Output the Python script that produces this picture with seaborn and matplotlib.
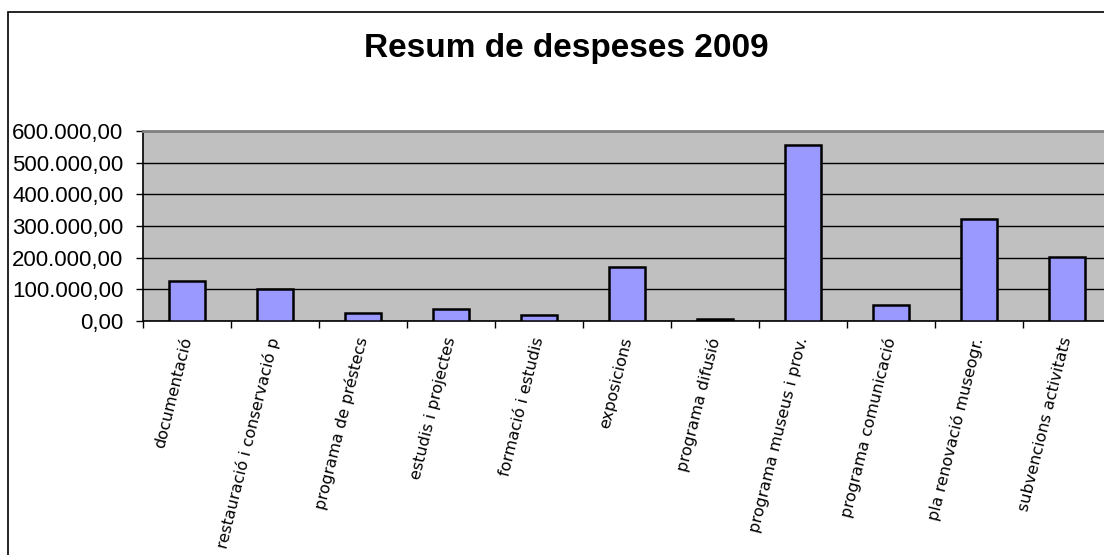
import numpy as np
import pandas as pd
import matplotlib
matplotlib.use("Agg")
import matplotlib.pyplot as plt
import seaborn as sns
from matplotlib.patches import Rectangle
from matplotlib.ticker import FuncFormatter, FixedLocator

# ========================== DATA ==========================

categories = [
    'documentació',
    'restauració i conservació p',
    'programa de préstecs',
    'estudis i projectes',
    'formació i estudis',
    'exposicions',
    'programa difusió',
    'programa museus i prov.',
    'programa comunicació',
    'pla renovació museogr.',
    'subvencions activitats',
]
despeses = [125000, 100000, 24000, 38000, 19000, 170500, 6000, 556000, 50500, 321000, 202000]
y_ticks = [0, 100000, 200000, 300000, 400000, 500000, 600000]
title = 'Resum de despeses 2009'

# ========================== PLOT ==========================

sns.set_theme(style='white')
plt.rcParams['font.family'] = ['Liberation Sans', 'DejaVu Sans']

df = pd.DataFrame({'categoria': categories, 'despesa': despeses})

fig = plt.figure(figsize=(11.04, 5.55), dpi=100)
fig.patch.set_facecolor('white')

# chart border (cut on right and bottom like the screenshot)
fig.patches.append(Rectangle((8 / 1104, -0.2), 1.2, 1.2 - 12 / 555,
                             transform=fig.transFigure, fill=False,
                             edgecolor='black', linewidth=1.2, zorder=0))

ax = fig.add_axes([143 / 1104, 1 - 321 / 555, 968 / 1104, 190 / 555])
ax.set_facecolor('#C0C0C0')

sns.barplot(data=df, x='categoria', y='despesa', color='#9999FF',
            edgecolor='black', linewidth=1.8, width=0.41, saturation=1,
            ax=ax, zorder=3)

ax.set_xlim(-0.5, len(categories) - 0.5)
ax.set_ylim(0, 600000)
ax.set_yticks(y_ticks)
ax.yaxis.set_major_formatter(FuncFormatter(
    lambda v, p: f"{v:,.2f}".replace(',', 'X').replace('.', ',').replace('X', '.')))
ax.grid(axis='y', color='black', linewidth=1, zorder=1)
ax.set_axisbelow(True)
ax.set_xlabel('')
ax.set_ylabel('')

# tick marks between categories, labels under centres
ax.xaxis.set_minor_locator(FixedLocator(np.arange(-0.5, len(categories), 1)))
ax.tick_params(axis='x', which='minor', length=5, width=1, color='black', direction='out', bottom=True)
ax.tick_params(axis='x', which='major', length=0, pad=12)
ax.tick_params(axis='y', length=5, width=1, color='black', direction='out', left=True,
               labelsize=16, pad=9, labelcolor='black')

for lbl in ax.get_xticklabels():
    lbl.set_rotation(76)
    lbl.set_rotation_mode('anchor')
    lbl.set_ha('right')
    lbl.set_va('center')
    lbl.set_fontsize(11.5)
    lbl.set_family(['DejaVu Sans'])
    lbl.set_color('black')

for side in ['left', 'bottom']:
    ax.spines[side].set_color('black')
    ax.spines[side].set_linewidth(1.2)
ax.spines['top'].set_color('#808080')
ax.spines['top'].set_linewidth(2)
ax.spines['right'].set_visible(False)

fig.text(566 / 1104, 1 - 48 / 555, title, ha='center', va='center',
         fontsize=24, fontweight='bold', color='black')

fig.savefig('out.png', dpi=100)
